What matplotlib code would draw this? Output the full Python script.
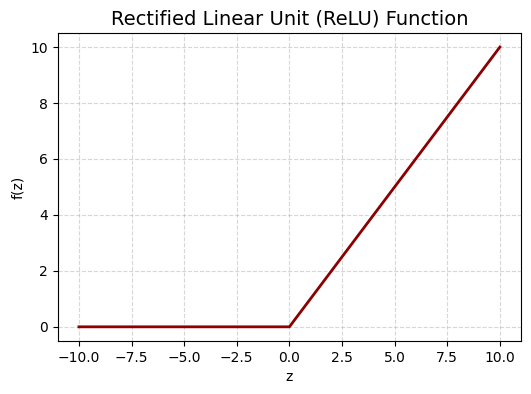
import matplotlib.pyplot as plt

# points (ReLU corners)
z_vals = [-10.0, 0.0, 10.0]
f_vals = [0.0, 0.0, 10.0]


def main():
    fig = plt.figure(figsize=(5.31, 3.94), dpi=100)
    ax = fig.add_axes([0.109, 0.135, 0.872, 0.781])

    ax.plot(z_vals, f_vals, color="darkred", linewidth=2)
    ax.set_title("Rectified Linear Unit (ReLU) Function", fontsize=14)
    ax.set_xlabel("z")
    ax.set_ylabel("f(z)")
    ax.grid(True, linestyle="--", alpha=0.5)

    fig.savefig("out.png", dpi=100)
    plt.close(fig)


if __name__ == "__main__":
    main()
